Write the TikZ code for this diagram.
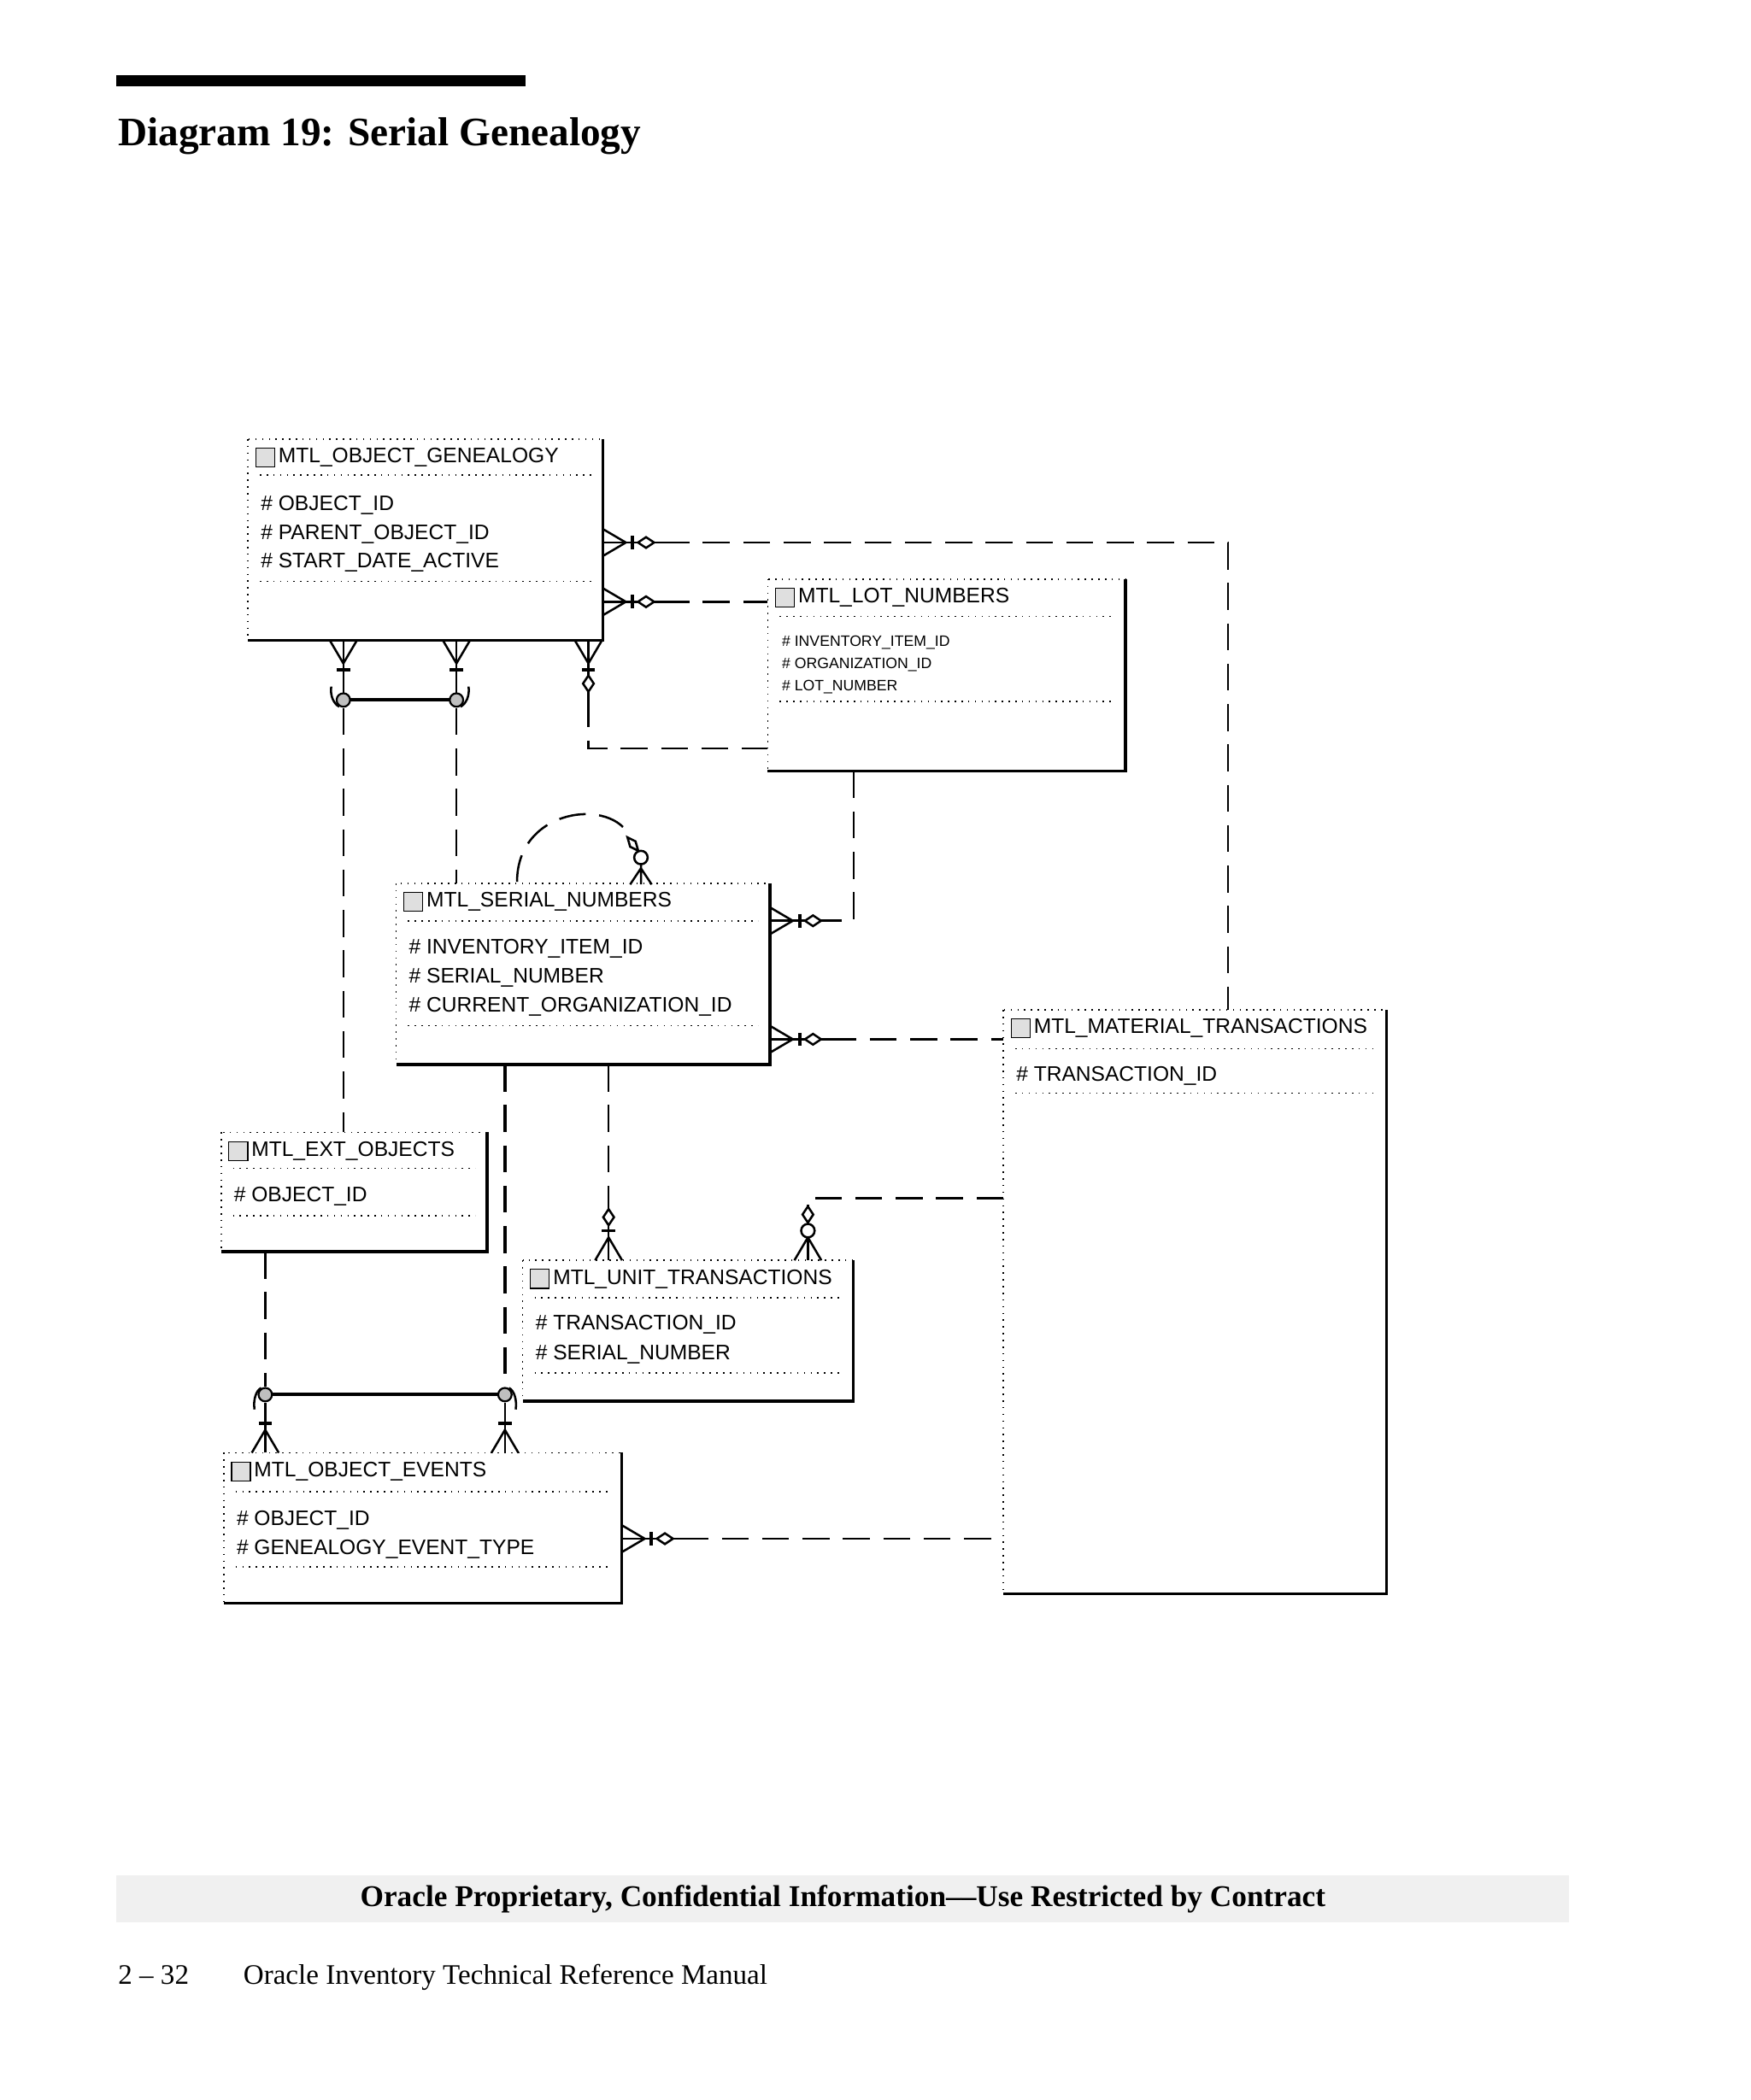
\documentclass[tikz,border=0pt]{standalone}
\usepackage{fontspec}
\setmainfont{Liberation Serif}
\newfontfamily\dsans{Liberation Sans}
\usetikzlibrary{fit}
\begin{document}
\begin{tikzpicture}[x=0.5pt,y=-0.5pt,line width=0.8pt,
  dsh/.style={dash pattern=on 10pt off 5pt,line width=0.8pt},
  crow/.pic={\draw (0,-10)--(17,0)--(0,10); \draw (0,0)--(25,0); \draw[line width=1.2pt] (22,-5)--(22,5);},
  crowdia/.pic={\draw (0,-10)--(17,0)--(0,10); \draw (0,0)--(45,0); \draw[line width=1.2pt] (22,-5)--(22,5);
     \draw[fill=white] (26,0)--(32,4)--(38,0)--(32,-4)--cycle;},
  crowcdia/.pic={\draw (0,-10)--(17,0)--(0,10); \draw (0,0)--(40,0);
     \draw[fill=white] (22,0) circle (5); \draw[fill=white] (28,0)--(34,4)--(40,0)--(34,-4)--cycle;},
  gc/.style={fill=gray!50,draw=black,line width=0.7pt},
  ttl/.style={anchor=west,font=\dsans\fontsize{7.8}{9}\selectfont,inner sep=0},
  att/.style={anchor=west,font=\dsans\fontsize{7.8}{9}\selectfont,inner sep=0},
  satt/.style={anchor=west,font=\dsans\fontsize{5.6}{7}\selectfont,inner sep=0},
  dl/.style={dotted,line width=0.5pt}]
\useasboundingbox (0,0) rectangle (1300,1560);
\newcommand{\ent}[6]{%
  \node[inner sep=0,fit={(#2,#3)(#4,#5)}] (#1) {};
  \draw[dotted,line width=0.5pt] (#1.north west) rectangle (#1.south east);
  \draw[line width=1.1pt] (#1.north east)--(#1.south east)--(#1.south west);
  \draw[fill=gray!25,line width=0.4pt] (#2+5,#3+6) rectangle (#2+19,#3+20);
  \node[ttl] at (#2+21,#3+13) {#6};}
% header
\fill (86,56) rectangle (390,64);
\node[anchor=base west,inner sep=0,font=\bfseries\fontsize{15}{18}\selectfont] (t) at (87,108) {Diagram 19: Serial Genealogy};
% entities
\ent{gen}{185}{327}{447}{475}{MTL\_OBJECT\_GENEALOGY}
\draw[dl] (193,353)--(439,353); \draw[dl] (193,432)--(439,432);
\node[att] at (193,375) {\# OBJECT\_ID};
\node[att] at (193,397) {\# PARENT\_OBJECT\_ID};
\node[att] at (193,418) {\# START\_DATE\_ACTIVE};
\ent{lot}{571}{431}{835}{572}{MTL\_LOT\_NUMBERS}
\draw[dl] (579,458)--(827,458); \draw[dl] (579,521)--(827,521);
\node[satt] at (580,477) {\# INVENTORY\_ITEM\_ID};
\node[satt] at (580,494) {\# ORGANIZATION\_ID};
\node[satt] at (580,510) {\# LOT\_NUMBER};
\ent{ser}{295}{657}{571}{790}{MTL\_SERIAL\_NUMBERS}
\draw[dl] (303,684)--(563,684); \draw[dl] (303,762)--(563,762);
\node[att] at (303,705) {\# INVENTORY\_ITEM\_ID};
\node[att] at (303,726) {\# SERIAL\_NUMBER};
\node[att] at (303,748) {\# CURRENT\_ORGANIZATION\_ID};
\ent{mat}{746}{751}{1029}{1183}{MTL\_MATERIAL\_TRANSACTIONS}
\draw[dl] (754,779)--(1021,779); \draw[dl] (754,812)--(1021,812);
\node[att] at (754,799) {\# TRANSACTION\_ID};
\ent{ext}{165}{842}{361}{929}{MTL\_EXT\_OBJECTS}
\draw[dl] (173,868)--(353,868); \draw[dl] (173,903)--(353,903);
\node[att] at (173,889) {\# OBJECT\_ID};
\ent{unit}{389}{937}{633}{1040}{MTL\_UNIT\_TRANSACTIONS}
\draw[dl] (397,964)--(625,964); \draw[dl] (397,1020)--(625,1020);
\node[att] at (397,984) {\# TRANSACTION\_ID};
\node[att] at (397,1006) {\# SERIAL\_NUMBER};
\ent{evt}{167}{1080}{461}{1190}{MTL\_OBJECT\_EVENTS}
\draw[dl] (175,1108)--(453,1108); \draw[dl] (175,1164)--(453,1164);
\node[att] at (175,1129) {\# OBJECT\_ID};
\node[att] at (175,1151) {\# GENEALOGY\_EVENT\_TYPE};
% connectors
\pic at (gen.east |- 0,403) {crowdia};
\draw[dsh] (492,403)--(912,403)--(mat.north -| 912,0);
\pic at (gen.east |- 0,447) {crowdia};
\draw[dsh] (492,447)--(lot.west |- 0,447);
\pic[rotate=-90] at (gen.south -| 437,0) {crowdia};
\draw[dsh] (437,520)--(437,556)--(lot.west |- 0,556);
\pic[rotate=-90] at (gen.south -| 255,0) {crow};
\pic[rotate=-90] at (gen.south -| 339,0) {crow};
\draw (255,500)--(255,515) (339,500)--(339,515);
\draw[line width=1.2pt] (255,520)--(339,520);
\draw[gc] (255,520) circle (5); \draw[gc] (339,520) circle (5);
\draw (246,510) .. controls (245,517) and (248,523) .. (252,525);
\draw (348,510) .. controls (349,517) and (346,523) .. (342,525);
\draw[dsh] (255,526)--(ext.north -| 255,0);
\draw[dsh] (339,526)--(ser.north -| 339,0);
% self loop
\draw[dsh] (384,655) .. controls (384,600) and (455,592) .. (468,622);
\draw[fill=white] (466,622)--(472,625)--(474,632)--(468,629)--cycle;
\draw[fill=white] (476,637) circle (5);
\draw (468,657)--(476,645)--(484,657) (476,642)--(476,657);
\draw[dsh] (lot.south -| 634,0)--(634,684)--(616,684);
\pic at (ser.east |- 0,684) {crowdia};
\pic at (ser.east |- 0,772) {crowdia};
\draw[dsh] (616,772)--(mat.west |- 0,772);
\draw[dsh] (ser.south -| 452,0)--(452,895);
\pic[rotate=90] at (unit.north -| 452,0) {crowdia};
\draw[dsh] (mat.west |- 0,890)--(600,890)--(600,897);
\pic[rotate=90] at (unit.north -| 600,0) {crowcdia};
\draw[dsh,line width=1.1pt] (ser.south -| 375,0)--(375,1030);
\draw[dsh] (ext.south -| 197,0)--(197,1030);
\pic[rotate=90] at (evt.north -| 197,0) {crow};
\pic[rotate=90] at (evt.north -| 375,0) {crow};
\draw (197,1042)--(197,1055) (375,1042)--(375,1055);
\draw[line width=1.2pt] (197,1036)--(375,1036);
\draw[gc] (197,1036) circle (5); \draw[gc] (375,1036) circle (5);
\draw (194,1031) .. controls (190,1033) and (188,1040) .. (189,1047);
\draw (378,1031) .. controls (382,1033) and (384,1040) .. (383,1047);
\pic at (evt.east |- 0,1143) {crowdia};
\draw[dsh] (506,1143)--(mat.west |- 0,1143);
% footer
\fill[gray!12] (86,1393) rectangle (1165,1428);
\node[font=\bfseries\fontsize{11.2}{13}\selectfont] (f) at (626,1411) {Oracle Proprietary, Confidential Information{–}{–}Use Restricted by Contract};
\node[anchor=base west,inner sep=0,font=\fontsize{10.5}{12}\selectfont] (p) at (87,1474) {2 – 32};
\node[anchor=base west,inner sep=0,font=\fontsize{10.5}{12}\selectfont] (m) at (180,1474) {Oracle Inventory Technical Reference Manual};
\end{tikzpicture}
\end{document}
